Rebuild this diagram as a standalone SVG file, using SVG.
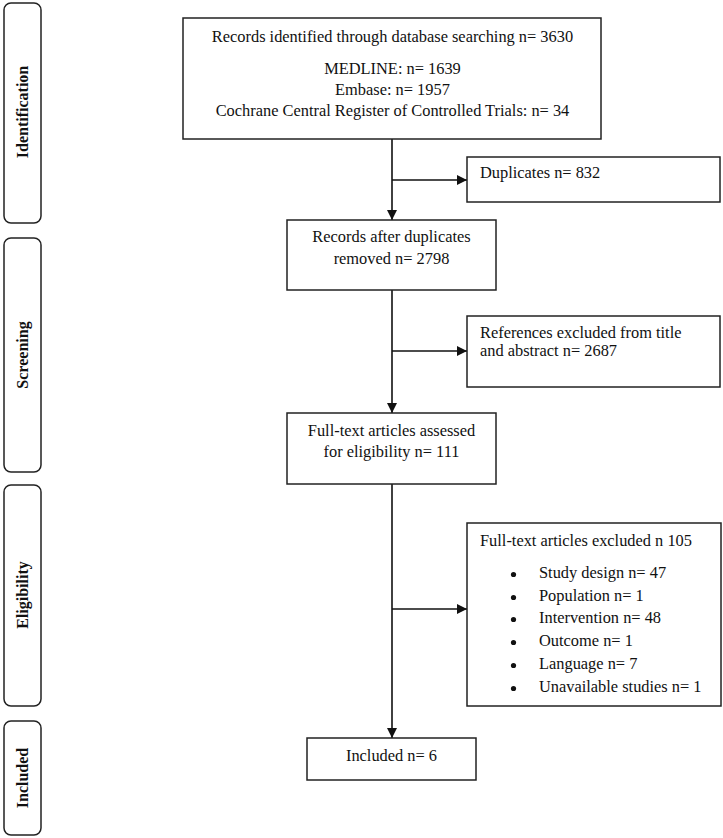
<svg xmlns="http://www.w3.org/2000/svg" width="723" height="838" viewBox="0 0 723 838">
<style>
.box{fill:#fff;stroke:#222;stroke-width:1.5}
.side{fill:#fff;stroke:#222;stroke-width:1.5}
.t{font-family:"Liberation Serif","Times New Roman",serif;font-size:16.4px;fill:#111;transform-box:fill-box;transform-origin:center;transform:scaleY(1.08)}
.c{text-anchor:middle}
.lab{font-family:"Liberation Serif","Times New Roman",serif;font-size:16px;font-weight:bold;fill:#111;text-anchor:middle}
.ln{stroke:#111;stroke-width:1.6;fill:none}
.dot{fill:#111}
</style>
<defs>
<marker id="ah" viewBox="0 0 10 10" refX="10" refY="5" markerWidth="10" markerHeight="10" markerUnits="userSpaceOnUse" orient="auto">
<path d="M0,0 L10,5 L0,10 z" fill="#111"/>
</marker>
</defs>
<rect width="723" height="838" fill="#fff"/>
<g id="phase-identification">
<rect class="side" x="4" y="3" width="37" height="220" rx="7"/>
<text class="lab" transform="translate(28,112) rotate(-90)">Identification</text>
</g>
<g id="phase-screening">
<rect class="side" x="4" y="238" width="37" height="234" rx="7"/>
<text class="lab" transform="translate(28,355) rotate(-90)">Screening</text>
</g>
<g id="phase-eligibility">
<rect class="side" x="4" y="485" width="37" height="221" rx="7"/>
<text class="lab" transform="translate(28,595) rotate(-90)">Eligibility</text>
</g>
<g id="phase-included">
<rect class="side" x="4" y="721" width="37" height="114" rx="7"/>
<text class="lab" transform="translate(28,778) rotate(-90)">Included</text>
</g>
<g id="connectors">
<line class="ln" x1="392" y1="139" x2="392" y2="220" marker-end="url(#ah)"/>
<line class="ln" x1="392" y1="180" x2="467" y2="180" marker-end="url(#ah)"/>
<line class="ln" x1="392" y1="290" x2="392" y2="413" marker-end="url(#ah)"/>
<line class="ln" x1="392" y1="351" x2="467" y2="351" marker-end="url(#ah)"/>
<line class="ln" x1="392" y1="484" x2="392" y2="738" marker-end="url(#ah)"/>
<line class="ln" x1="392" y1="609" x2="467" y2="609" marker-end="url(#ah)"/>
</g>
<g id="records-identified">
<rect class="box" x="183" y="18" width="418" height="121"/>
<text class="t c" x="392.5" y="41.5">Records identified through database searching n= 3630</text>
<text class="t c" x="392.5" y="73.5">MEDLINE: n= 1639</text>
<text class="t c" x="392.5" y="95">Embase: n= 1957</text>
<text class="t c" x="392.5" y="116">Cochrane Central Register of Controlled Trials: n= 34</text>
</g>
<g id="duplicates">
<rect class="box" x="467" y="157" width="253" height="45"/>
<text class="t" x="480" y="178">Duplicates n= 832</text>
</g>
<g id="after-duplicates">
<rect class="box" x="287" y="220" width="209" height="70"/>
<text class="t c" x="391.5" y="242">Records after duplicates</text>
<text class="t c" x="391.5" y="263.5">removed n= 2798</text>
</g>
<g id="excluded-title-abstract">
<rect class="box" x="467" y="316" width="253" height="71"/>
<text class="t" x="480" y="338">References excluded from title</text>
<text class="t" x="480" y="356">and abstract n= 2687</text>
</g>
<g id="full-text-assessed">
<rect class="box" x="287" y="413" width="209" height="71"/>
<text class="t c" x="391.5" y="436">Full-text articles assessed</text>
<text class="t c" x="391.5" y="457">for eligibility n= 111</text>
</g>
<g id="full-text-excluded">
<rect class="box" x="467" y="523" width="254" height="183"/>
<text class="t" x="480" y="546">Full-text articles excluded n 105</text>
<circle class="dot" cx="513.5" cy="574.5" r="2.6"/>
<circle class="dot" cx="513.5" cy="597.5" r="2.6"/>
<circle class="dot" cx="513.5" cy="619.5" r="2.6"/>
<circle class="dot" cx="513.5" cy="642.5" r="2.6"/>
<circle class="dot" cx="513.5" cy="665.5" r="2.6"/>
<circle class="dot" cx="513.5" cy="688.5" r="2.6"/>
<text class="t" x="539" y="578">Study design n= 47</text>
<text class="t" x="539" y="601">Population n= 1</text>
<text class="t" x="539" y="623">Intervention n= 48</text>
<text class="t" x="539" y="646">Outcome n= 1</text>
<text class="t" x="539" y="669">Language n= 7</text>
<text class="t" x="539" y="692">Unavailable studies n= 1</text>
</g>
<g id="included">
<rect class="box" x="307" y="738" width="169" height="42"/>
<text class="t c" x="391.5" y="761">Included n= 6</text>
</g>
</svg>
